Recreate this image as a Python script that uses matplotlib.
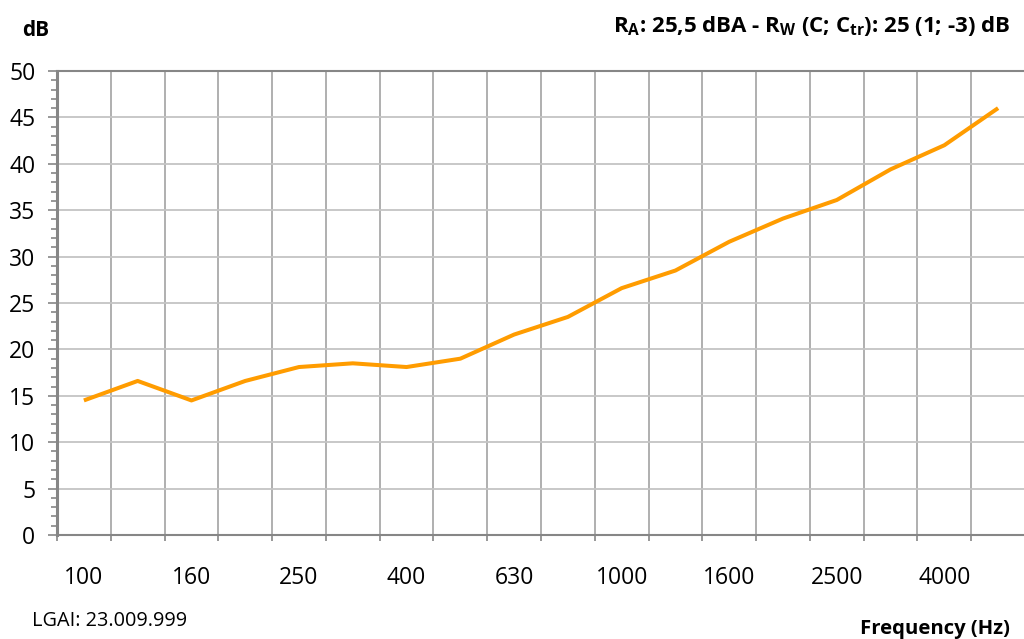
import matplotlib
matplotlib.use("Agg")
import matplotlib.pyplot as plt
import numpy as np

plt.rcParams["font.family"] = ["Open Sans", "DejaVu Sans"]
plt.rcParams["mathtext.fontset"] = "custom"
plt.rcParams["mathtext.rm"] = "Open Sans:bold"
plt.rcParams["mathtext.bf"] = "Open Sans:bold"

freqs = ["100", "125", "160", "200", "250", "315", "400", "500", "630", "800",
         "1000", "1250", "1600", "2000", "2500", "3150", "4000", "5000"]
r_db = [14.5, 16.6, 14.5, 16.6, 18.1, 18.5, 18.1, 19.0, 21.6, 23.5,
        26.6, 28.5, 31.6, 34.1, 36.1, 39.4, 42.0, 46.0]

grid_v = "#9a9a9a"
grid_h = "#c4c4c4"
spine_c = "#868686"

fig = plt.figure(figsize=(10.24, 6.39), dpi=100)
ax = fig.add_axes([57 / 1024, 104 / 639, 968 / 1024, 464 / 639])

x = np.arange(len(freqs))
ax.plot(x, r_db, color="#FF9C00", linewidth=2.9, solid_capstyle="butt", zorder=3)

ax.set_xlim(-0.5, len(freqs) - 0.5)
ax.set_ylim(0, 50)

# y axis
ax.set_yticks(np.arange(0, 51, 5))
ax.set_yticks(np.arange(0, 51, 1), minor=True)
ax.tick_params(axis="y", which="major", length=6.5, width=1.2, color=spine_c,
               pad=9, labelsize=16.5)
ax.tick_params(axis="y", which="minor", length=4.3, width=1.2, color=spine_c)
ax.yaxis.grid(True, which="major", color=grid_h, linewidth=1.3, zorder=1)

# x axis: ticks on boundaries, labels on centres (every other)
ax.set_xticks(x[::2])
ax.set_xticklabels(freqs[::2])
ax.set_xticks(np.arange(-0.5, len(freqs), 1), minor=True)
ax.tick_params(axis="x", which="major", length=0, pad=22, labelsize=16.5)
ax.tick_params(axis="x", which="minor", length=4.5, width=1.2, color=spine_c)
ax.xaxis.grid(True, which="minor", color=grid_v, linewidth=1.1, zorder=1)
ax.set_axisbelow(True)

ax.spines["left"].set_color(spine_c)
ax.spines["left"].set_linewidth(2.2)
ax.spines["bottom"].set_color(spine_c)
ax.spines["bottom"].set_linewidth(1.5)
ax.spines["top"].set_color(spine_c)
ax.spines["top"].set_linewidth(1.5)
ax.spines["right"].set_visible(False)

fig.text(22 / 1024, 1 - 30 / 639, "dB", fontsize=15, fontweight="bold",
         va="center", ha="left")
fig.text(1010 / 1024, 1 - 26 / 639,
         r"R$_\mathrm{A}$: 25,5 dBA - R$_\mathrm{W}$ (C; C$_\mathrm{tr}$): 25 (1; -3) dB",
         fontsize=16, fontweight="bold", va="center", ha="right")
fig.text(1010 / 1024, 1 - 629 / 639, "Frequency (Hz)", fontsize=14.6,
         fontweight="bold", va="center", ha="right")
fig.text(32 / 1024, 1 - 621 / 639, "LGAI: 23.009.999", fontsize=14.3,
         va="center", ha="left")

fig.savefig("out.png", dpi=100)
